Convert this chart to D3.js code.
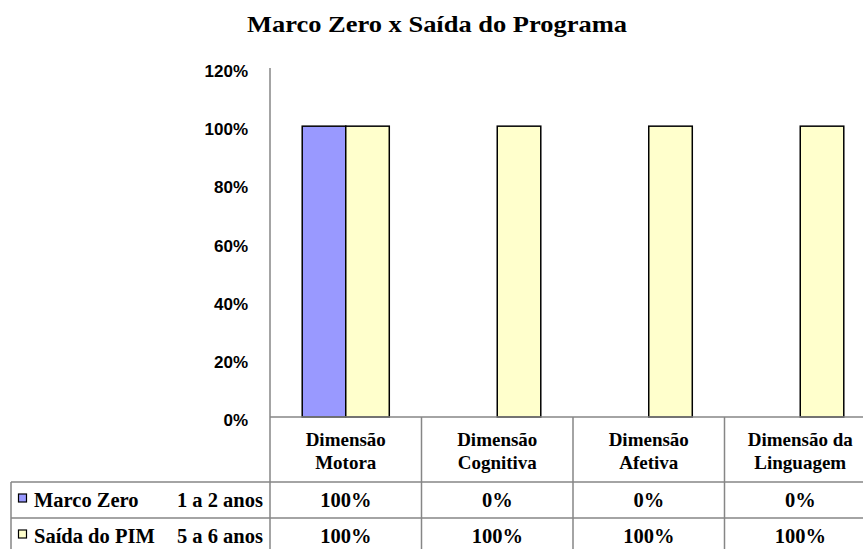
<!DOCTYPE html>
<html><head><meta charset="utf-8">
<script src="https://cdn.jsdelivr.net/npm/d3@7"></script>
<style>body{margin:0;background:#fff;overflow:hidden}svg{display:block}</style>
</head><body>
<svg id="c" width="863" height="549"></svg>
<script>
const title = "Marco Zero x Saída do Programa";
const categories = [["Dimensão","Motora"],["Dimensão","Cognitiva"],["Dimensão","Afetiva"],["Dimensão da","Linguagem"]];
const seriesNames = ["Marco Zero","Saída do PIM"];
const seriesAges = ["1 a 2 anos","5 a 6 anos"];
const marcoZero = [1,0,0,0];
const saidaPIM = [1,1,1,1];
const yTicks = [0,0.2,0.4,0.6,0.8,1.0,1.2];
const seriesColors = ["#9999FF","#FFFFCC"];

(function(){
const series = [marcoZero, saidaPIM];
const svg = d3.select("#c");
const left = 270, bandW = 151.5, plotTop = 68, base = 417;
const x = d3.scaleBand().domain(d3.range(categories.length)).range([left, left + bandW*categories.length]);
const x1 = d3.scaleBand().domain(d3.range(series.length)).range([0, x.bandwidth()]).paddingOuter(0.74);
const y = d3.scaleLinear().domain([0,1.2]).range([base, plotTop]);
const fmt = d3.format(".0%");
const grid = "#868686";
const serif = "Liberation Serif, Times New Roman, serif";

svg.append("text").attr("x",247).attr("y",32)
  .attr("font-family",serif).attr("font-weight","bold")
  .attr("font-size",24).attr("textLength",380).attr("lengthAdjust","spacingAndGlyphs").text(title);

// y axis
const yAxis = d3.axisLeft(y).tickValues(yTicks).tickFormat(fmt).tickSize(0).tickPadding(22);
const ga = svg.append("g").attr("transform",`translate(${left},0)`).call(yAxis);
ga.select(".domain").remove();
ga.selectAll("text").attr("font-family","Liberation Sans, Arial, sans-serif").attr("font-weight","bold")
  .attr("font-size",17).attr("fill","#000").attr("dy","0.5em");

// bars
series.forEach((vals,si)=>{
  svg.append("g").selectAll("rect").data(vals).join("rect")
    .attr("x",(d,i)=>x(i)+x1(si)).attr("width",x1.bandwidth())
    .attr("y",d=>y(d)).attr("height",d=>y(0)-y(d))
    .attr("fill",seriesColors[si]).attr("stroke","#000").attr("stroke-width",1.5);
});

// axis lines
svg.append("line").attr("x1",left).attr("x2",left).attr("y1",plotTop).attr("y2",549).attr("stroke",grid).attr("stroke-width",1.5);
svg.append("line").attr("x1",left).attr("x2",863).attr("y1",base).attr("y2",base).attr("stroke",grid).attr("stroke-width",1.5);

// table
const row1 = 482, row2 = 518, tblLeft = 11;
[row1,row2].forEach(yy=>svg.append("line").attr("x1",tblLeft).attr("x2",863).attr("y1",yy).attr("y2",yy).attr("stroke",grid).attr("stroke-width",1.5));
svg.append("line").attr("x1",tblLeft).attr("x2",tblLeft).attr("y1",row1).attr("y2",549).attr("stroke",grid).attr("stroke-width",1.5);
d3.range(1,categories.length+1).forEach(i=>{
  const xx = left + bandW*i;
  svg.append("line").attr("x1",xx).attr("x2",xx).attr("y1",base).attr("y2",549).attr("stroke",grid).attr("stroke-width",1.5);
});
categories.forEach((c,i)=>{
  const t = svg.append("text").attr("text-anchor","middle").attr("font-family",serif).attr("font-weight","bold").attr("font-size",19);
  c.forEach((ln,k)=>t.append("tspan").attr("x",x(i)+x.bandwidth()/2).attr("y",446+k*23).text(ln));
});
const rowBase = [507,543];
series.forEach((vals,si)=>{
  svg.append("rect").attr("x",18.5).attr("y",rowBase[si]-13).attr("width",8).attr("height",8)
    .attr("fill",seriesColors[si]).attr("stroke","#000").attr("stroke-width",1.2);
  svg.append("text").attr("x",34).attr("y",rowBase[si]).attr("font-family",serif).attr("font-weight","bold").attr("font-size",20.5).text(seriesNames[si]);
  svg.append("text").attr("x",263).attr("y",rowBase[si]).attr("text-anchor","end").attr("font-family",serif).attr("font-weight","bold").attr("font-size",20.5).text(seriesAges[si]);
  vals.forEach((v,i)=>{
    svg.append("text").attr("x",x(i)+x.bandwidth()/2).attr("y",rowBase[si]).attr("text-anchor","middle")
      .attr("font-family",serif).attr("font-weight","bold").attr("font-size",20.5).text(fmt(v));
  });
});
})();
</script>
</body></html>
